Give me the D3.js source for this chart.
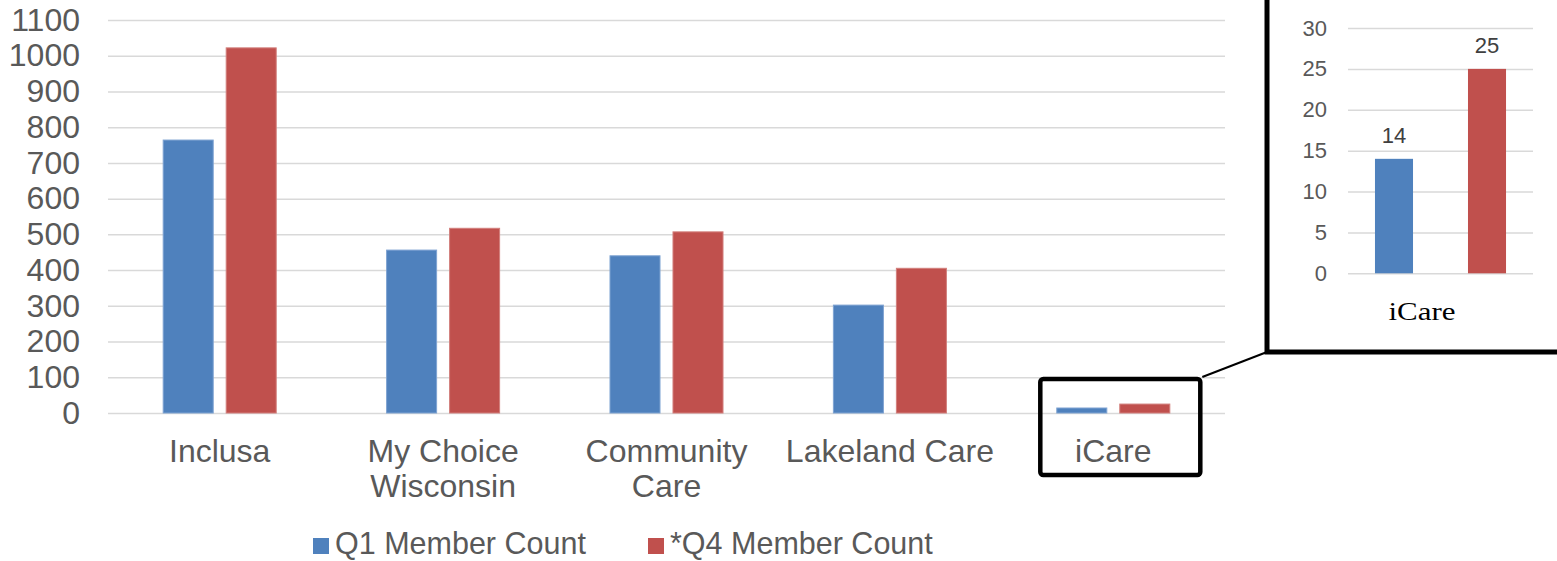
<!DOCTYPE html>
<html>
<head>
<meta charset="utf-8">
<script src="https://cdn.jsdelivr.net/npm/d3@7"></script>
<style>
  html, body { margin: 0; padding: 0; background: #ffffff; }
  svg { display: block; font-family: "Liberation Sans", Arial, sans-serif; }
</style>
</head>
<body>
<svg id="chart" width="1557" height="561"></svg>
<script>
// Member counts by managed care organization
const categories = ["Inclusa", "My Choice Wisconsin", "Community Care", "Lakeland Care", "iCare"];
const categoryLines = [["Inclusa"], ["My Choice", "Wisconsin"], ["Community", "Care"], ["Lakeland Care"], ["iCare"]];
const seriesNames = ["Q1 Member Count", "*Q4 Member Count"];
const q1Counts = [764, 456, 440, 302, 14];
const q4Counts = [1022, 517, 507, 405, 25];
const yTicks = [0, 100, 200, 300, 400, 500, 600, 700, 800, 900, 1000, 1100];

// Detail panel for the smallest organization
const detailCategory = "iCare";
const detailTicks = [0, 5, 10, 15, 20, 25, 30];

const colors = ["#4f81bd", "#c0504d"];
const strokes = ["#7fa3d2", "#d27f7c"];
const textColor = "#595959";
const gridColor = "#d9d9d9";
const mainFont = 32;

const svg = d3.select("#chart");

// ---- main chart ----
const x0 = d3.scaleBand().domain(categories).range([108, 1225]).paddingInner(0).paddingOuter(0);
const x1 = d3.scaleBand().domain(seriesNames).range([0, x0.bandwidth()]).paddingInner(0.206).paddingOuter(0.876);
const y = d3.scaleLinear().domain([0, 1100]).range([413, 20]);

const yAxis = d3.axisLeft(y).tickValues(yTicks).tickFormat(d3.format("d"))
  .tickSize(-(1225 - 108)).tickPadding(28);
const gy = svg.append("g").attr("transform", "translate(108,0)").call(yAxis);
gy.select(".domain").remove();
gy.selectAll(".tick line").attr("stroke", gridColor).attr("stroke-width", 1.5);
gy.selectAll(".tick text")
  .attr("fill", textColor)
  .attr("font-size", mainFont)
  .attr("font-family", "Liberation Sans, Arial, sans-serif");

const rows = categories.map((c, i) => ({ cat: c, values: [q1Counts[i], q4Counts[i]] }));

const groups = svg.append("g").selectAll("g").data(rows).join("g")
  .attr("transform", d => `translate(${x0(d.cat)},0)`);
groups.selectAll("rect").data(d => d.values.map((v, j) => ({ s: seriesNames[j], v, j }))).join("rect")
  .attr("x", d => x1(d.s))
  .attr("width", x1.bandwidth())
  .attr("y", d => y(d.v))
  .attr("height", d => y(0) - y(d.v))
  .attr("fill", d => colors[d.j])
  .attr("stroke", d => strokes[d.j])
  .attr("stroke-width", 1);

// category labels (wrapped)
const labels = svg.append("g").selectAll("text").data(categories).join("text")
  .attr("x", d => x0(d) + x0.bandwidth() / 2)
  .attr("y", 462)
  .attr("text-anchor", "middle")
  .attr("fill", textColor)
  .attr("font-size", mainFont);
labels.each(function (d, i) {
  d3.select(this).selectAll("tspan").data(categoryLines[i]).join("tspan")
    .attr("x", x0(d) + x0.bandwidth() / 2)
    .attr("dy", (t, k) => k === 0 ? 0 : 35)
    .text(t => t);
});

// ---- legend ----
const legendItems = [{ name: seriesNames[0], x: 313 }, { name: seriesNames[1], x: 648 }];
const lg = svg.append("g").selectAll("g").data(legendItems).join("g")
  .attr("transform", d => `translate(${d.x},0)`);
lg.append("rect").attr("x", 0).attr("y", 538).attr("width", 16).attr("height", 16)
  .attr("fill", (d, i) => colors[i]);
lg.append("text").attr("x", 22).attr("y", 554)
  .attr("fill", textColor).attr("font-size", 30.5)
  .text(d => d.name);

// ---- highlight around the small category ----
const hi = categories.indexOf(detailCategory);
const hc = x0(categories[hi]) + x0.bandwidth() / 2;
const hbox = { x: hc - 73, y: 379, w: 160, h: 96 };
svg.append("rect")
  .attr("x", hbox.x).attr("y", hbox.y).attr("width", hbox.w).attr("height", hbox.h)
  .attr("rx", 3)
  .attr("fill", "none").attr("stroke", "#000").attr("stroke-width", 4.5);

// ---- detail panel ----
const panel = { x: 1267, y: -10, w: 400, h: 362 };
svg.append("line")
  .attr("x1", hbox.x + hbox.w + 2).attr("y1", hbox.y - 2)
  .attr("x2", panel.x).attr("y2", panel.y + panel.h)
  .attr("stroke", "#000").attr("stroke-width", 2);
svg.append("rect")
  .attr("x", panel.x).attr("y", panel.y).attr("width", panel.w).attr("height", panel.h)
  .attr("fill", "#fff").attr("stroke", "#000").attr("stroke-width", 5);

const dx = d3.scaleBand().domain(seriesNames).range([1348, 1533]).paddingInner(0.591).paddingOuter(0.29);
const dy = d3.scaleLinear().domain([0, 30]).range([273.3, 28]);

const dAxis = d3.axisLeft(dy).tickValues(detailTicks).tickSize(-(1533 - 1348)).tickPadding(21);
const gd = svg.append("g").attr("transform", "translate(1348,0)").call(dAxis);
gd.select(".domain").remove();
gd.selectAll(".tick line").attr("stroke", gridColor).attr("stroke-width", 1.5);
gd.selectAll(".tick text")
  .attr("fill", textColor)
  .attr("font-size", 22)
  .attr("font-family", "Liberation Sans, Arial, sans-serif");

const detailVals = [q1Counts[hi], q4Counts[hi]];
svg.append("g").selectAll("rect").data(detailVals).join("rect")
  .attr("x", (d, j) => dx(seriesNames[j]))
  .attr("width", dx.bandwidth())
  .attr("y", d => dy(d))
  .attr("height", d => dy(0) - dy(d))
  .attr("fill", (d, j) => colors[j]);

svg.append("g").selectAll("text").data(detailVals).join("text")
  .attr("x", (d, j) => dx(seriesNames[j]) + dx.bandwidth() / 2)
  .attr("y", d => dy(d) - 16)
  .attr("text-anchor", "middle")
  .attr("fill", "#404040")
  .attr("font-size", 22)
  .text(d => d);

svg.append("text")
  .attr("x", 1422).attr("y", 320)
  .attr("text-anchor", "middle")
  .attr("font-family", "Liberation Serif, Times New Roman, serif")
  .attr("font-size", 25)
  .attr("textLength", 67)
  .attr("lengthAdjust", "spacingAndGlyphs")
  .attr("fill", "#000")
  .text(detailCategory);
</script>
</body>
</html>
